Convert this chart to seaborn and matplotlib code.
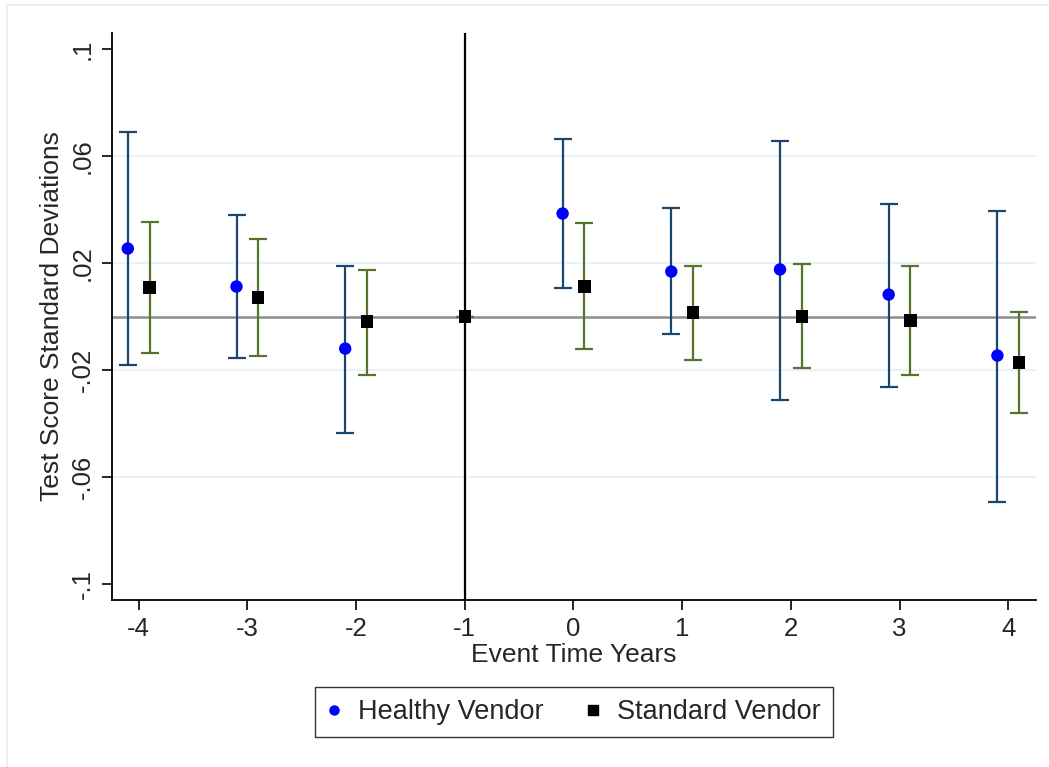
import numpy as np
import pandas as pd
import seaborn as sns
import matplotlib.pyplot as plt
from matplotlib.lines import Line2D

# event-study estimates
event_years = [-4, -3, -2, -1, 0, 1, 2, 3, 4]

healthy_years = [-4, -3, -2, 0, 1, 2, 3, 4]
healthy_coef = [0.0254, 0.0112, -0.0120, 0.0385, 0.0168, 0.0176, 0.0082, -0.0146]
healthy_lo = [-0.0180, -0.0157, -0.0437, 0.0105, -0.0067, -0.0314, -0.0265, -0.0695]
healthy_hi = [0.0688, 0.0378, 0.0190, 0.0665, 0.0404, 0.0658, 0.0422, 0.0396]

standard_years = [-4, -3, -2, -1, 0, 1, 2, 3, 4]
standard_coef = [0.0108, 0.0071, -0.0019, 0.0, 0.0112, 0.0015, 0.0, -0.0015, -0.0172]
standard_lo = [-0.0138, -0.0146, -0.0217, 0.0, -0.0123, -0.0164, -0.0194, -0.0220, -0.0359]
standard_hi = [0.0355, 0.0288, 0.0172, 0.0, 0.0348, 0.0190, 0.0198, 0.0187, 0.0015]

ytick_vals = [-0.1, -0.06, -0.02, 0.02, 0.06, 0.1]
ytick_labels = ["-.1", "-.06", "-.02", ".02", ".06", ".1"]

navy = "#1a476f"
olive = "#55752f"

sns.set_style("white")
plt.rcParams['font.family'] = ['Liberation Sans', 'DejaVu Sans']

h = pd.DataFrame({"year": healthy_years, "coef": healthy_coef,
                  "lo": healthy_lo, "hi": healthy_hi, "group": "Healthy Vendor"})
h["x"] = h["year"] - 0.1
s = pd.DataFrame({"year": standard_years, "coef": standard_coef,
                  "lo": standard_lo, "hi": standard_hi, "group": "Standard Vendor"})
s["x"] = np.where(s["year"] == -1, s["year"], s["year"] + 0.1)

fig = plt.figure(figsize=(10.49, 7.67), dpi=100)
ax = fig.add_axes([111.5 / 1049, 1 - 600 / 767, (1036 - 111.5) / 1049, (600 - 33) / 767])

for y in [-0.06, -0.02, 0.02, 0.06]:
    ax.axhline(y, color="#eaf2f3", lw=1.5, zorder=0)
ax.axhline(0, color="#8c8c8c", lw=1.8, zorder=1)
ax.axvline(-1, color="black", lw=1.6, zorder=1)

ax.errorbar(h["x"], h["coef"], yerr=[h["coef"] - h["lo"], h["hi"] - h["coef"]],
            fmt="none", ecolor=navy, elinewidth=1.6, capsize=6.5, capthick=1.6, zorder=2)
ax.errorbar(s["x"], s["coef"], yerr=[s["coef"] - s["lo"], s["hi"] - s["coef"]],
            fmt="none", ecolor=olive, elinewidth=1.6, capsize=6.5, capthick=1.6, zorder=2)

sns.scatterplot(data=h, x="x", y="coef", ax=ax, color="#0000ff", marker="o",
                s=80, edgecolor="none", zorder=3, legend=False)
sns.scatterplot(data=s, x="x", y="coef", ax=ax, color="black", marker="s",
                s=80, edgecolor="none", zorder=3, legend=False)

ax.set_xlim(-4.25, 4.255)
ax.set_ylim(-0.106, 0.106)
ax.set_xticks(event_years)
ax.set_xticklabels([str(v) for v in event_years])
ax.set_yticks(ytick_vals)
ax.set_yticklabels(ytick_labels, rotation=90, va="center")
ax.tick_params(axis="both", which="major", length=7, width=1.2, color="black",
               labelsize=18.5, pad=5, direction="out", left=True, bottom=True)

for side in ["top", "right"]:
    ax.spines[side].set_visible(False)
for side in ["left", "bottom"]:
    ax.spines[side].set_color("black")
    ax.spines[side].set_linewidth(1.3)

ax.set_xlabel("Event Time Years", fontsize=19, labelpad=2)
ax.set_ylabel("Test Score Standard Deviations", fontsize=19, labelpad=5)

handles = [Line2D([], [], marker="o", color="#0000ff", linestyle="none", markersize=6.5),
           Line2D([], [], marker="s", color="black", linestyle="none", markersize=6.5)]
leg = fig.legend(handles, ["Healthy Vendor", "Standard Vendor"], loc="center",
                 bbox_to_anchor=(574 / 1049, 1 - 712 / 767), ncol=2, fontsize=19.5,
                 frameon=True, fancybox=False, handletextpad=0.62, columnspacing=1.6,
                 borderpad=0.45, handlelength=0.5)
leg.get_frame().set_edgecolor("black")
leg.get_frame().set_linewidth(1.0)

# faint outer frame of the graph region
fig.add_artist(Line2D([7 / 1049, 7 / 1049], [0, 1 - 5 / 767], color="#e8eef0", lw=1.2))
fig.add_artist(Line2D([7 / 1049, 1], [1 - 5 / 767, 1 - 5 / 767], color="#e8eef0", lw=1.2))

fig.savefig("out.png", dpi=100)
